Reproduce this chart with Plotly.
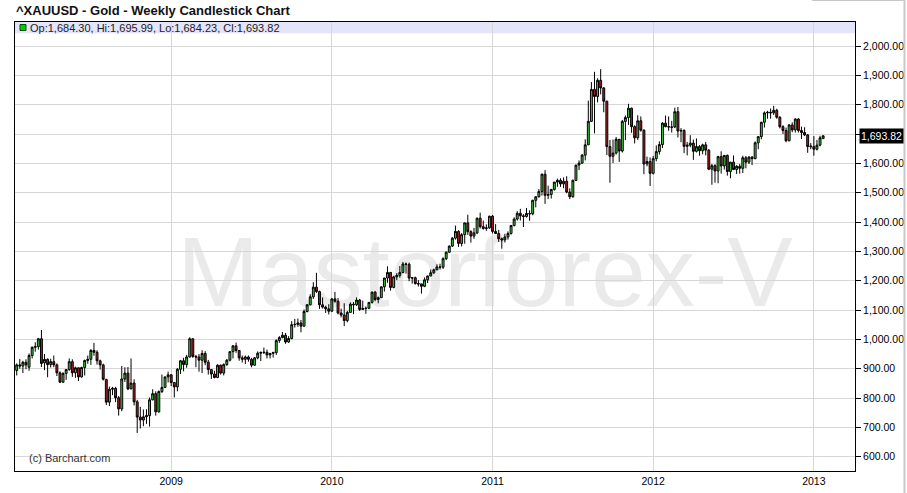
import pandas as pd
import plotly.graph_objects as go

# Weekly candles, week of 2008-01-21 .. week of 2013-01-21 (262 weeks)
week_start = "2008-01-21"
n_weeks = 262

opens = [
    894, 913, 909, 922, 905, 945, 973, 975, 1002, 920, 932, 914, 924, 913, 886, 854, 884, 897, 924, 886,
    903, 872, 904, 928, 932, 962, 956, 927, 913, 863, 786, 830, 833, 801, 763, 865, 885, 831, 851, 787,
    735, 725, 736, 740, 794, 815, 753, 822, 836, 872, 879, 853, 838, 898, 927, 914, 940, 1002, 942, 940,
    929, 952, 922, 897, 882, 870, 912, 885, 914, 929, 958, 978, 962, 937, 932, 940, 932, 912, 937, 953,
    955, 956, 947, 952, 955, 996, 1006, 1014, 991, 1003, 1050, 1051, 1056, 1045, 1095, 1118, 1145, 1178, 1163, 1118,
    1110, 1104, 1096, 1138, 1130, 1090, 1083, 1064, 1092, 1120, 1118, 1134, 1102, 1105, 1106, 1126, 1161, 1136, 1142, 1179,
    1209, 1228, 1177, 1213, 1218, 1228, 1257, 1256, 1209, 1210, 1190, 1189, 1181, 1203, 1216, 1227, 1237, 1247, 1246, 1275,
    1297, 1318, 1345, 1368, 1327, 1357, 1397, 1367, 1352, 1363, 1413, 1384, 1378, 1380, 1420, 1368, 1361, 1343, 1339, 1349,
    1361, 1388, 1410, 1430, 1421, 1419, 1429, 1428, 1474, 1486, 1504, 1563, 1491, 1494, 1511, 1536, 1542, 1530, 1539, 1502,
    1486, 1542, 1594, 1601, 1628, 1663, 1743, 1852, 1828, 1883, 1857, 1812, 1657, 1624, 1635, 1682, 1642, 1743, 1756, 1788,
    1725, 1687, 1745, 1713, 1598, 1606, 1566, 1616, 1640, 1664, 1737, 1725, 1724, 1724, 1776, 1710, 1712, 1658, 1662, 1669,
    1641, 1657, 1643, 1663, 1645, 1580, 1592, 1574, 1623, 1591, 1627, 1572, 1604, 1579, 1590, 1583, 1619, 1604, 1621, 1616,
    1670, 1691, 1740, 1772, 1774, 1772, 1781, 1757, 1725, 1712, 1677, 1731, 1714, 1751, 1712, 1705, 1697, 1659, 1657, 1648,
    1662, 1684.30,
]
highs = [
    918, 933, 927, 932, 952, 976, 990, 1005, 1032, 950, 935, 934, 945, 918, 891, 888, 898, 935, 932, 907,
    904, 907, 931, 945, 967, 988, 963, 931, 917, 866, 839, 838, 838, 807, 909, 905, 906, 935, 864, 794,
    770, 761, 762, 802, 830, 823, 826, 880, 873, 890, 882, 855, 902, 930, 937, 947, 1007, 1003, 947, 950,
    963, 960, 930, 899, 893, 915, 914, 918, 933, 960, 980, 989, 964, 945, 945, 945, 937, 940, 959, 959,
    972, 965, 954, 958, 1000, 1011, 1025, 1022, 1011, 1062, 1070, 1071, 1066, 1102, 1120, 1154, 1195, 1227, 1166, 1143,
    1115, 1120, 1140, 1162, 1141, 1105, 1123, 1097, 1126, 1127, 1143, 1138, 1132, 1112, 1127, 1163, 1165, 1146, 1180, 1210,
    1249, 1230, 1217, 1226, 1250, 1264, 1262, 1262, 1212, 1214, 1202, 1190, 1211, 1217, 1238, 1241, 1256, 1258, 1280, 1300,
    1320, 1349, 1388, 1372, 1362, 1398, 1425, 1372, 1380, 1415, 1432, 1405, 1392, 1421, 1424, 1393, 1373, 1347, 1360, 1368,
    1390, 1416, 1437, 1445, 1427, 1448, 1440, 1476, 1488, 1512, 1565, 1577, 1524, 1513, 1537, 1548, 1549, 1552, 1556, 1515,
    1545, 1595, 1610, 1632, 1682, 1814, 1877, 1912, 1890, 1921, 1860, 1813, 1680, 1681, 1690, 1683, 1748, 1763, 1803, 1790,
    1730, 1764, 1760, 1716, 1623, 1620, 1625, 1661, 1675, 1740, 1763, 1760, 1745, 1790, 1792, 1720, 1716, 1673, 1696, 1681,
    1685, 1662, 1667, 1673, 1648, 1598, 1597, 1626, 1641, 1628, 1630, 1605, 1627, 1594, 1598, 1626, 1625, 1625, 1625, 1675,
    1692, 1742, 1777, 1779, 1787, 1796, 1786, 1761, 1730, 1722, 1734, 1740, 1754, 1754, 1725, 1723, 1700, 1669, 1693, 1680,
    1694, 1695.99,
]
lows = [
    877, 900, 885, 898, 893, 935, 958, 965, 906, 895, 871, 904, 905, 875, 852, 852, 862, 893, 872, 869,
    858, 870, 877, 917, 913, 944, 914, 897, 860, 776, 773, 810, 786, 740, 755, 855, 827, 831, 775, 681,
    696, 704, 712, 703, 792, 740, 750, 817, 835, 853, 841, 802, 823, 882, 891, 903, 938, 937, 905, 890,
    885, 912, 880, 865, 867, 868, 880, 877, 910, 925, 935, 954, 927, 921, 916, 924, 905, 910, 932, 926,
    950, 935, 935, 938, 947, 988, 1004, 985, 988, 1000, 1040, 1043, 1024, 1043, 1092, 1116, 1138, 1158, 1104, 1105,
    1090, 1085, 1094, 1125, 1085, 1075, 1045, 1058, 1090, 1086, 1114, 1097, 1100, 1087, 1103, 1122, 1130, 1123, 1141, 1163,
    1193, 1166, 1174, 1202, 1210, 1225, 1224, 1198, 1190, 1187, 1180, 1156, 1178, 1192, 1215, 1223, 1236, 1238, 1240, 1270,
    1296, 1315, 1340, 1315, 1317, 1326, 1356, 1330, 1343, 1359, 1378, 1374, 1370, 1377, 1361, 1359, 1332, 1309, 1330, 1340,
    1357, 1385, 1405, 1405, 1383, 1415, 1404, 1423, 1450, 1484, 1490, 1462, 1478, 1480, 1507, 1520, 1520, 1515, 1498, 1478,
    1483, 1541, 1577, 1598, 1610, 1663, 1741, 1702, 1808, 1835, 1774, 1628, 1534, 1601, 1630, 1605, 1637, 1679, 1731, 1704,
    1668, 1680, 1708, 1563, 1590, 1523, 1562, 1607, 1630, 1652, 1723, 1711, 1705, 1720, 1688, 1672, 1635, 1627, 1655, 1612,
    1637, 1626, 1631, 1627, 1577, 1527, 1534, 1532, 1565, 1579, 1558, 1549, 1577, 1564, 1565, 1567, 1583, 1598, 1594, 1614,
    1648, 1682, 1722, 1752, 1752, 1765, 1752, 1719, 1700, 1672, 1675, 1706, 1705, 1705, 1683, 1693, 1636, 1648, 1626, 1644,
    1658, 1684.23,
]
closes = [
    913, 909, 922, 913, 945, 973, 975, 1002, 918, 932, 914, 924, 913, 886, 854, 884, 897, 924, 886, 903,
    872, 904, 928, 932, 962, 956, 927, 913, 864, 786, 830, 833, 801, 763, 865, 885, 831, 851, 787, 735,
    725, 736, 740, 794, 815, 753, 822, 836, 872, 879, 853, 838, 898, 927, 914, 940, 1002, 942, 940, 929,
    952, 922, 897, 882, 870, 912, 885, 914, 929, 958, 978, 962, 937, 932, 940, 932, 912, 937, 953, 955,
    956, 947, 952, 955, 996, 1006, 1014, 991, 1003, 1050, 1051, 1056, 1045, 1095, 1118, 1145, 1178, 1163, 1118, 1110,
    1104, 1096, 1138, 1130, 1090, 1083, 1064, 1092, 1120, 1118, 1134, 1102, 1105, 1106, 1126, 1161, 1136, 1142, 1179, 1209,
    1228, 1177, 1213, 1218, 1228, 1257, 1256, 1209, 1210, 1190, 1189, 1181, 1203, 1216, 1227, 1237, 1247, 1246, 1275, 1297,
    1318, 1345, 1368, 1327, 1357, 1397, 1367, 1352, 1363, 1413, 1384, 1378, 1380, 1420, 1368, 1361, 1343, 1339, 1349, 1361,
    1388, 1410, 1430, 1421, 1419, 1429, 1428, 1474, 1486, 1504, 1563, 1491, 1494, 1511, 1536, 1542, 1530, 1539, 1502, 1486,
    1542, 1594, 1601, 1628, 1663, 1743, 1852, 1828, 1883, 1857, 1812, 1657, 1624, 1635, 1682, 1642, 1743, 1756, 1788, 1725,
    1687, 1745, 1713, 1598, 1606, 1566, 1616, 1640, 1664, 1737, 1725, 1724, 1723, 1776, 1710, 1712, 1658, 1662, 1669, 1641,
    1657, 1643, 1663, 1645, 1580, 1592, 1574, 1623, 1591, 1627, 1572, 1604, 1579, 1590, 1583, 1619, 1604, 1621, 1616, 1670,
    1691, 1740, 1772, 1774, 1772, 1781, 1757, 1725, 1712, 1677, 1731, 1714, 1751, 1712, 1705, 1697, 1657, 1657, 1648, 1662,
    1687, 1693.82,
]

year_ticks = ["2009-01-05", "2010-01-04", "2011-01-03", "2012-01-02", "2012-12-31"]
year_labels = ["2009", "2010", "2011", "2012", "2013"]
price_ticks = [600, 700, 800, 900, 1000, 1100, 1200, 1300, 1400, 1500, 1600, 1700, 1800, 1900, 2000]
# the 1,700 label sits under the last-price box in the reference
price_labels = ["600.00", "700.00", "800.00", "900.00", "1,000.00", "1,100.00", "1,200.00", "1,300.00",
                "1,400.00", "1,500.00", "1,600.00", "", "1,800.00", "1,900.00", "2,000.00"]

title_text = "^XAUUSD - Gold - Weekly Candlestick Chart"
legend_text = "Op:1,684.30, Hi:1,695.99, Lo:1,684.23, Cl:1,693.82"
last_label = "1,693.82"
watermark = "Mastorforex-V"
credit = "(c) Barchart.com"

dates = pd.date_range(week_start, periods=n_weeks, freq="7D")

W, H = 907, 493
L, R, T, B = 15, 52, 22, 22
PW, PH = W - L - R, H - T - B


def px(xp):
    return (xp - L) / PW


def py(yp):
    return (H - B - yp) / PH


FONT = "Liberation Sans, Arial, sans-serif"

fig = go.Figure()
fig.add_trace(go.Candlestick(
    x=dates, open=opens, high=highs, low=lows, close=closes,
    increasing=dict(line=dict(color="#000000", width=1), fillcolor="#40D040"),
    decreasing=dict(line=dict(color="#000000", width=1), fillcolor="#AA2222"),
    whiskerwidth=0, showlegend=False, hoverinfo="skip",
))

shapes = [
    # lavender legend band inside top of plot
    dict(type="rect", xref="paper", yref="paper", x0=0, x1=1, y0=py(33.3), y1=1,
         fillcolor="#E4E4FA", line=dict(width=0), layer="below"),
    # legend green square
    dict(type="rect", xref="paper", yref="paper", x0=px(20), x1=px(26), y0=py(30.5), y1=py(24.5),
         fillcolor="#00CC00", line=dict(color="#005500", width=1)),
    # outer gray frame (right / top-right)
    dict(type="line", xref="paper", yref="paper", x0=px(904.5), x1=px(904.5), y0=py(0), y1=py(493),
         line=dict(color="#C8C8C8", width=2)),
    dict(type="line", xref="paper", yref="paper", x0=px(812), x1=px(905), y0=py(0.5), y1=py(0.5),
         line=dict(color="#C8C8C8", width=1)),
    # watermark (below candles)
    dict(type="rect", xref="paper", yref="paper", x0=px(150), x1=px(820), y0=py(310), y1=py(215),
         line=dict(width=0), fillcolor="rgba(0,0,0,0)", layer="between",
         label=dict(text=watermark, font=dict(family=FONT, size=98, color="#EAEAEA"),
                    textposition="middle center")),
]

annotations = [
    dict(text=f"<b>{title_text}</b>", xref="paper", yref="paper", x=px(14), y=py(10.5),
         xanchor="left", yanchor="middle", showarrow=False,
         font=dict(family=FONT, size=13, color="#111111")),
    dict(text=legend_text, xref="paper", yref="paper", x=px(28), y=py(27.5),
         xanchor="left", yanchor="middle", showarrow=False,
         font=dict(family=FONT, size=11, color="#222222")),
    dict(text=credit, xref="paper", yref="paper", x=px(27), y=py(457.5),
         xanchor="left", yanchor="middle", showarrow=False,
         font=dict(family=FONT, size=11, color="#333333")),
    dict(text=last_label, xref="paper", yref="y", x=1, y=closes[-1],
         xanchor="left", yanchor="middle", xshift=4, showarrow=False,
         bgcolor="#000000", borderpad=1,
         font=dict(family=FONT, size=10.5, color="#FFFFFF")),
]

fig.update_layout(
    width=W, height=H,
    margin=dict(l=L, r=R, t=T, b=B, pad=0, autoexpand=False),
    paper_bgcolor="#FFFFFF", plot_bgcolor="#FFFFFF",
    font=dict(family=FONT, size=10, color="#000000"),
    shapes=shapes, annotations=annotations,
    showlegend=False, boxgap=0.12,
    xaxis=dict(
        type="date", automargin=False,
        range=["2008-01-17 03:00", "2013-04-03 05:00"],
        tickvals=year_ticks, ticktext=year_labels,
        showgrid=True, gridcolor="#D6D6D6", gridwidth=1,
        showline=True, linecolor="#000000", linewidth=1, mirror=True,
        ticks="", tickfont=dict(size=10.5, color="#000000"),
        rangeslider=dict(visible=False), zeroline=False,
    ),
    yaxis=dict(
        side="right", automargin=False,
        range=[551.3, 2081.8],
        tickvals=price_ticks, ticktext=price_labels,
        showgrid=True, gridcolor="#D6D6D6", gridwidth=1,
        showline=True, linecolor="#000000", linewidth=1, mirror=True,
        ticks="outside", ticklen=5, tickcolor="#000000", tickwidth=1,
        tickfont=dict(size=10.5, color="#000000"), zeroline=False,
    ),
)

fig.write_html(
    "out.html",
    config={"displayModeBar": False},
    post_script="document.body.style.margin='0';document.body.style.overflow='hidden';",
)
